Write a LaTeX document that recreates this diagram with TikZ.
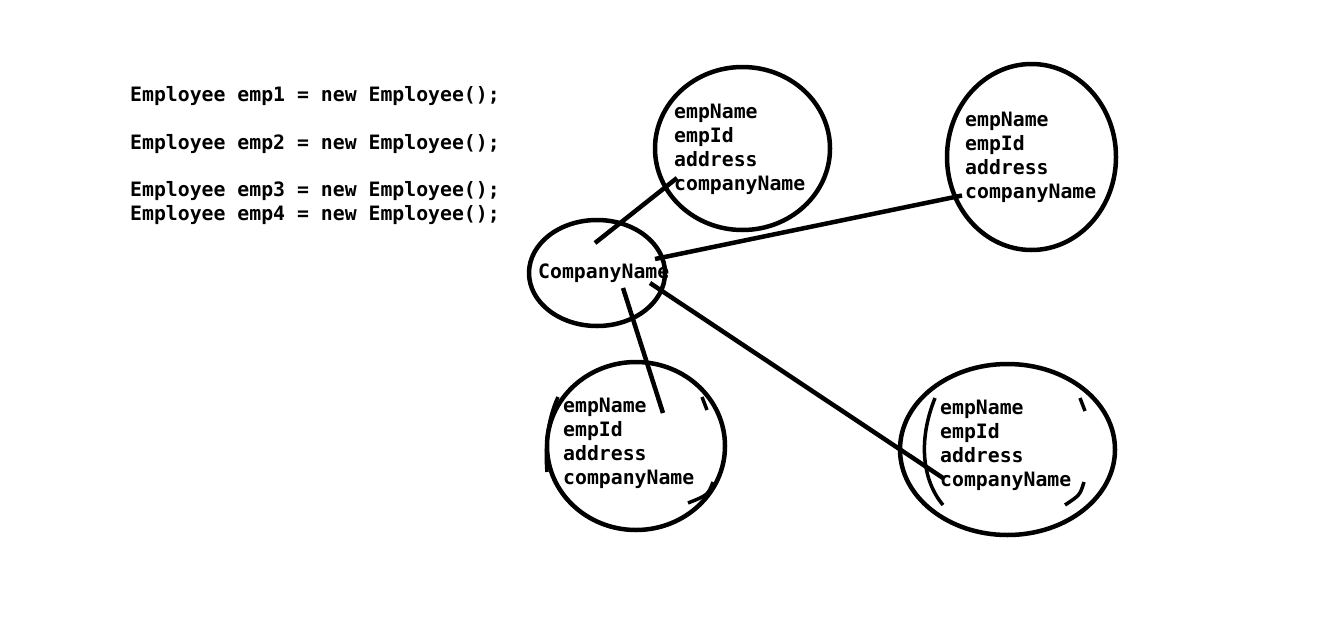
\documentclass[tikz,border=0pt]{standalone}
\usepackage{fontspec}
\setmonofont{DejaVu Sans Mono}
\usetikzlibrary{shapes.geometric}
\begin{document}
\begin{tikzpicture}[x=1pt,y=-1pt,
  lbl/.style={anchor=base west, inner sep=0pt, font=\ttfamily\bfseries\fontsize{19.8}{24}\selectfont},
  obj/.style={draw, ellipse, line width=4.5pt, inner sep=0pt, outer sep=0pt},
  link/.style={line width=4.5pt},
  scrib/.style={line width=3.5pt}]
\useasboundingbox (0,0) rectangle (1322,624);
\fill[white] (0,0) rectangle (1322,624);

% code lines
\node[lbl] (code1) at (130,101.5) {Employee emp1 = new Employee();};
\node[lbl] (code2) at (130,149) {Employee emp2 = new Employee();};
\node[lbl] (code3) at (130,196.5) {Employee emp3 = new Employee();};
\node[lbl] (code4) at (130,220.5) {Employee emp4 = new Employee();};

% objects
\node[obj, minimum width=175pt, minimum height=163pt] (e1) at (742.5,148.5) {};
\node[obj, minimum width=169pt, minimum height=186pt] (e2) at (1031.5,157) {};
\node[obj, minimum width=136pt, minimum height=106pt] (c) at (597,273) {};
\node[obj, minimum width=178pt, minimum height=168pt] (e3) at (636,446) {};
\node[obj, minimum width=215pt, minimum height=171pt] (e4) at (1007.5,449.5) {};

% texts in objects
\node[lbl] (e1a) at (674,118.3) {empName};
\node[lbl] (e1b) at (674,142.2) {empId};
\node[lbl] (e1c) at (674,166.1) {address};
\node[lbl] (e1d) at (674,190) {companyName};

\node[lbl] (e2a) at (965,126.7) {empName};
\node[lbl] (e2b) at (965,150.6) {empId};
\node[lbl] (e2c) at (965,174.5) {address};
\node[lbl] (e2d) at (965,198.4) {companyName};

\node[lbl] (ct) at (538,278.3) {CompanyName};

\node[lbl] (e3a) at (563,412.5) {empName};
\node[lbl] (e3b) at (563,436.5) {empId};
\node[lbl] (e3c) at (563,460.5) {address};
\node[lbl] (e3d) at (563,484.5) {companyName};

\node[lbl] (e4a) at (940,414.5) {empName};
\node[lbl] (e4b) at (940,438.5) {empId};
\node[lbl] (e4c) at (940,462.5) {address};
\node[lbl] (e4d) at (940,486.5) {companyName};

% connector end points
\coordinate (c1) at (595,243);
\coordinate (c2) at (655,259);
\coordinate (c3) at (623,288);
\coordinate (c4) at (650,283);
\coordinate (p1) at (677,178);
\coordinate (p2) at (962,195.5);
\coordinate (p3) at (663,413);
\coordinate (p4) at (943,478);

\draw[link] (c1) -- (p1);
\draw[link] (c2) -- (p2);
\draw[link] (c3) -- (p3);
\draw[link] (c4) -- (p4);

% scribbled bracket marks
\draw[scrib] (558,397) .. controls (547,420) and (545,450) .. (547,472);
\draw[scrib] (702,397) -- (707,410);
\draw[scrib] (713,482) .. controls (708,495) .. (688,503);
\draw[scrib] (935,398) .. controls (918,440) and (922,480) .. (943,505);
\draw[scrib] (1080,398) -- (1085,411);
\draw[scrib] (1084,482) .. controls (1080,495) .. (1065,505);
\end{tikzpicture}
\end{document}
